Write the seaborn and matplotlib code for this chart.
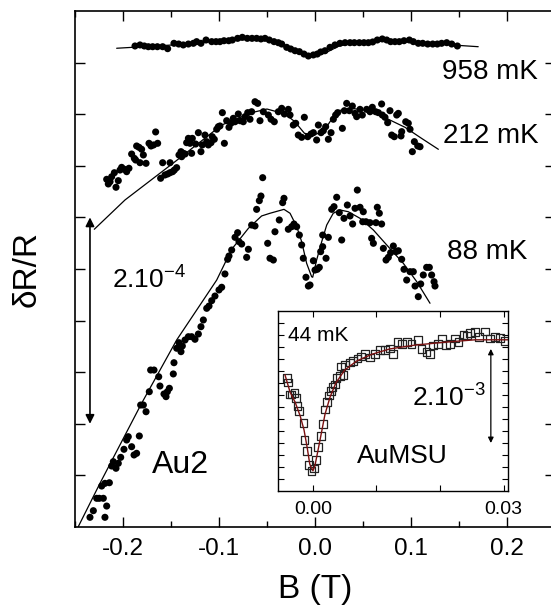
import numpy as np
import pandas as pd
import matplotlib
matplotlib.use("Agg")
import matplotlib.pyplot as plt
import seaborn as sns

# ---------------- data (main panel, y in units of 1e-4) ----------------
x_958 = [-0.1875, -0.1823, -0.1778, -0.1736, -0.1691, -0.1642, -0.1587, -0.1535, -0.1469, -0.1420,
         -0.1372, -0.1319, -0.1267, -0.1233, -0.1188, -0.1135, -0.1076, -0.1031, -0.0990, -0.0948,
         -0.0899, -0.0861, -0.0806, -0.0757, -0.0705, -0.0656, -0.0608, -0.0563, -0.0521, -0.0476,
         -0.0427, -0.0382, -0.0347, -0.0295, -0.0253, -0.0208, -0.0163, -0.0115, -0.0069, -0.0017,
         0.0024, 0.0059, 0.0104, 0.0156, 0.0208, 0.0260, 0.0313, 0.0365, 0.0410, 0.0462,
         0.0510, 0.0556, 0.0601, 0.0649, 0.0701, 0.0747, 0.0788, 0.0833, 0.0878, 0.0927,
         0.0983, 0.1024, 0.1076, 0.1122, 0.1174, 0.1226, 0.1274, 0.1319, 0.1372, 0.1424, 0.1483]
y_958 = [4.661, 4.671, 4.661, 4.654, 4.654, 4.654, 4.654, 4.635, 4.687, 4.680,
         4.671, 4.680, 4.687, 4.703, 4.687, 4.719, 4.703, 4.703, 4.703, 4.712,
         4.712, 4.719, 4.735, 4.745, 4.735, 4.735, 4.735, 4.729, 4.735, 4.719,
         4.703, 4.693, 4.680, 4.648, 4.632, 4.615, 4.606, 4.583, 4.564, 4.574,
         4.583, 4.603, 4.615, 4.648, 4.671, 4.687, 4.693, 4.693, 4.693, 4.693,
         4.693, 4.693, 4.700, 4.719, 4.729, 4.719, 4.703, 4.703, 4.703, 4.712,
         4.719, 4.703, 4.687, 4.687, 4.680, 4.680, 4.680, 4.687, 4.693, 4.680, 4.661]
fitx_958 = [-0.2066, -0.15, -0.10, -0.06, -0.04, -0.025, -0.01, 0.0, 0.01, 0.025, 0.045, 0.08, 0.12, 0.170]
fity_958 = [4.639, 4.670, 4.710, 4.730, 4.700, 4.640, 4.585, 4.570, 4.590, 4.660, 4.700, 4.710, 4.685, 4.654]

x_212 = [-0.2170, -0.2153, -0.2135, -0.2118, -0.2090, -0.2073, -0.2049, -0.2031, -0.2014, -0.1986,
         -0.1962, -0.1938, -0.1910, -0.1882, -0.1858, -0.1868, -0.1833, -0.1823, -0.1806, -0.1788,
         -0.1760, -0.1729, -0.1708, -0.1681, -0.1660, -0.1639, -0.1608, -0.1587, -0.1563, -0.1535,
         -0.1510, -0.1510, -0.1483, -0.1465, -0.1441, -0.1417, -0.1396, -0.1389, -0.1372, -0.1354,
         -0.1337, -0.1319, -0.1302, -0.1285, -0.1278, -0.1243, -0.1215, -0.1188, -0.1174, -0.1146,
         -0.1128, -0.1111, -0.1083, -0.1070, -0.1049, -0.1024, -0.1007, -0.0990, -0.0965, -0.0944,
         -0.0920, -0.0896, -0.0875, -0.0851, -0.0833, -0.0799, -0.0781, -0.0747, -0.0729, -0.0701,
         -0.0677, -0.0660, -0.0625, -0.0597, -0.0573, -0.0538,
         -0.0486, -0.0458, -0.0424, -0.0382, -0.0347, -0.0319, -0.0278, -0.0260, -0.0226, -0.0201,
         -0.0174, -0.0139, -0.0111, -0.0076, -0.0042, -0.0017, 0.0017, 0.0035, 0.0063, 0.0087,
         0.0111, 0.0139, 0.0167, 0.0191, 0.0215, 0.0236, 0.0285, 0.0306, 0.0330, 0.0358,
         0.0389, 0.0417, 0.0434, 0.0469, 0.0493, 0.0538, 0.0573, 0.0597, 0.0632, 0.0660,
         0.0694, 0.0701, 0.0729, 0.0757, 0.0781, 0.0799, 0.0826, 0.0851, 0.0868, 0.0903,
         0.0896, 0.0945, 0.0972, 0.0990, 0.1035, 0.1070, 0.1094, 0.1014]
y_212 = [3.369, 3.324, 3.346, 3.394, 3.433, 3.292, 3.356, 3.459, 3.485, 3.466,
         3.443, 3.476, 3.614, 3.572, 3.692, 3.556, 3.679, 3.530, 3.660, 3.605,
         3.524, 3.718, 3.692, 3.702, 3.828, 3.718, 3.379, 3.530, 3.411, 3.421,
         3.433, 3.530, 3.443, 3.459, 3.482, 3.605, 3.637, 3.588, 3.621, 3.614,
         3.724, 3.766, 3.718, 3.621, 3.766, 3.711, 3.821, 3.637, 3.702, 3.798,
         3.734, 3.702, 3.724, 3.782, 3.757, 3.854, 3.879, 3.886, 4.015, 3.718,
         3.937, 3.873, 3.912, 3.960, 3.927, 4.002, 3.937, 3.927, 3.976, 4.015,
         3.951, 4.024, 4.121, 4.105, 3.937, 4.024,
         3.992, 3.951, 3.927, 4.024, 4.057, 4.002, 4.047, 3.992, 3.895, 3.912,
         3.798, 3.776, 3.970, 3.782, 3.808, 3.821, 3.750, 3.895, 3.821, 3.840,
         3.879, 3.757, 3.821, 3.951, 3.992, 4.015, 3.863, 4.034, 4.105, 4.034,
         4.079, 4.008, 3.976, 4.047, 3.992, 4.047, 4.024, 4.067, 4.024, 4.015,
         4.099, 3.992, 3.970, 3.918, 4.034, 3.798, 3.782, 3.992, 4.008, 3.831,
         3.789, 3.927, 3.912, 3.854, 3.734, 3.692, 3.685, 3.637]
fitx_212 = [-0.2299, -0.1979, -0.1458, -0.0972, -0.0660, -0.0500, -0.0310, -0.0210, -0.0110, -0.0020,
            0.0087, 0.0156, 0.0243, 0.0380, 0.0556, 0.0764, 0.0938, 0.1110, 0.1285]
fity_212 = [2.885, 3.169, 3.540, 3.895, 4.015, 4.050, 4.002, 3.927, 3.815, 3.798,
            3.830, 3.927, 4.034, 4.057, 4.034, 3.951, 3.873, 3.766, 3.660]

x_88 = [-0.0563, -0.0580, -0.0608, -0.0660, -0.0625, -0.0806, -0.0833, -0.0792, -0.0764, -0.0712,
        -0.0694, -0.0868, -0.0896, -0.0910, -0.0938, -0.0972, -0.1000, -0.1042, -0.1076, -0.1104,
        -0.1128, -0.1163, -0.1188, -0.1215, -0.1250, -0.1285, -0.1319, -0.1354, -0.1382, -0.1417,
        -0.1396, -0.1441, -0.0417, -0.0493, -0.0469, -0.0434, -0.0545,
        -0.0323, -0.0337, -0.0372, -0.0278, -0.0243, -0.0219, -0.0191, -0.0163, -0.0139, -0.0122,
        -0.0094, -0.0069, -0.0052, -0.0017, 0.0000, 0.0024, 0.0045, 0.0059, 0.0080, 0.0115,
        0.0139, 0.0080, 0.0174, 0.0198, 0.0226, 0.0253, 0.0278, 0.0302, 0.0337, 0.0365,
        0.0392, 0.0417, 0.0441, 0.0469, 0.0503, 0.0531, 0.0497, 0.0573, 0.0590, 0.0608,
        0.0635, 0.0649, 0.0670, 0.0694, 0.0712, 0.0740, 0.0764, 0.0788, 0.0816, 0.0844,
        0.0868, 0.0903, 0.0927, 0.0955, 0.0990, 0.1024, 0.1042, 0.1076, 0.1101, 0.1128,
        0.1163, 0.1191, 0.1215, 0.1240, 0.1250,
        -0.1469, -0.1476, -0.1517, -0.1538, -0.1552, -0.1573, -0.1615, -0.1628, -0.1677, -0.1712,
        -0.1726, -0.1760, -0.1788, -0.1816, -0.1830, -0.1858, -0.1885, -0.1910, -0.1945, -0.1962,
        -0.1990, -0.2024, -0.2049, -0.2073, -0.2101, -0.2118, -0.2142, -0.2188, -0.2222, -0.2247,
        -0.2274, -0.2309, -0.2344, -0.2205, -0.2170, -0.2188]
y_88 = [3.207, 3.162, 3.078, 2.926, 2.917, 2.852, 2.807, 2.765, 2.742, 2.613,
        2.691, 2.684, 2.626, 2.594, 2.452, 2.323, 2.297, 2.238, 2.193, 2.141,
        2.119, 2.006, 1.941, 1.870, 1.819, 1.844, 1.844, 1.812, 1.754, 1.786,
        1.699, 1.732, 2.861, 2.749, 2.604, 2.587, 3.385,
        3.185, 3.143, 2.975, 2.885, 2.910, 2.936, 2.910, 2.829, 2.733, 2.604,
        2.420, 2.335, 2.345, 2.580, 2.490, 2.497, 2.516, 2.668, 2.716, 2.604,
        2.807, 2.829, 3.078, 3.104, 3.195, 3.046, 2.781, 2.991, 3.120, 3.014,
        2.936, 3.088, 3.265, 3.098, 3.055, 2.958, 2.958, 2.949, 2.797, 2.749,
        2.949, 3.098, 3.040, 2.936, 2.700, 2.587, 2.613, 2.658, 2.723, 2.668,
        2.677, 2.594, 2.497, 2.393, 2.474, 2.474, 2.335, 2.232, 2.355, 2.442,
        2.516, 2.516, 2.442, 2.377, 2.335,
        1.592, 1.483, 1.344, 1.311, 1.263, 1.289, 1.366, 1.456, 1.521, 1.521,
        1.311, 1.117, 1.182, 1.182, 0.882, 0.714, 0.698, 0.778, 0.875, 0.843,
        0.753, 0.675, 0.617, 0.569, 0.633, 0.591, 0.429, 0.423, 0.397, 0.278,
        0.278, 0.158, 0.094, 0.278, 0.203, 0.094]
fitx_88 = [-0.2466, -0.2240, -0.1806, -0.1441, -0.1024, -0.0868, -0.0694, -0.0556, -0.0469, -0.0323,
           -0.0260, -0.0190, -0.0139, -0.0087, -0.0035, -0.0024, 0.0017, 0.0070, 0.0122, 0.0190,
           0.0260, 0.0347, 0.0469, 0.0608, 0.0747, 0.0920, 0.1060, 0.1198]
fity_88 = [0.003, 0.423, 1.199, 1.812, 2.393, 2.691, 2.894, 3.014, 3.040, 3.078,
           3.040, 2.910, 2.765, 2.555, 2.425, 2.420, 2.587, 2.765, 2.926, 3.040,
           3.072, 3.055, 2.991, 2.878, 2.733, 2.555, 2.377, 2.168]

# ---------------- data (inset, y in units of 1e-3) ----------------
x_in = [-0.0041, -0.0039, -0.0037, -0.0034, -0.0029, -0.0027, -0.0024, -0.0022, -0.0015, -0.0013,
        -0.0009, -0.0006, -0.0002, 0.0002, 0.0005, 0.0008, 0.0013, 0.0016, 0.0019, 0.0022,
        0.0025, 0.0028, 0.0031, 0.0035, 0.0037, 0.0043, 0.0048, 0.0044, 0.0050, 0.0058,
        0.0063, 0.0070, 0.0076, 0.0082, 0.0090, 0.0098, 0.0106, 0.0113, 0.0121, 0.0126,
        0.0133, 0.0140, 0.0148, 0.0155, 0.0165, 0.0171, 0.0179, 0.0184, 0.0189, 0.0197,
        0.0203, 0.0209, 0.0216, 0.0224, 0.0229, 0.0237, 0.0242, 0.0247, 0.0255, 0.0261,
        0.0271, 0.0279, 0.0287, 0.0294, 0.0302]
y_in = [2.36, 2.26, 2.01, 2.01, 2.04, 1.94, 1.77, 1.67, 1.42, 1.06,
        0.83, 0.54, 0.42, 0.47, 0.65, 0.92, 1.15, 1.40, 1.70, 1.85,
        1.99, 2.08, 2.17, 2.22, 2.35, 2.40, 2.42, 2.59, 2.63, 2.68,
        2.71, 2.76, 2.80, 2.85, 2.78, 2.85, 2.94, 2.94, 2.97, 2.85,
        3.11, 3.06, 3.10, 3.06, 3.15, 2.96, 2.90, 2.85, 3.03, 3.06,
        3.18, 3.04, 3.06, 3.18, 3.11, 3.25, 3.24, 3.29, 3.31, 3.21,
        3.32, 3.18, 3.21, 3.19, 3.13]
fitx_in = [-0.0044, -0.0036, -0.0028, -0.0020, -0.0014, -0.0009, -0.0005, 0.0000, 0.0003, 0.0008,
           0.0013, 0.0019, 0.0027, 0.0036, 0.0050, 0.0069, 0.0093, 0.0121, 0.0161, 0.0208,
           0.0255, 0.0310]
fity_in = [2.42, 2.06, 1.85, 1.56, 1.27, 0.90, 0.56, 0.42, 0.52, 0.85,
           1.19, 1.60, 1.96, 2.25, 2.52, 2.71, 2.85, 2.96, 3.04, 3.10,
           3.15, 3.15]

main_xticks = [-0.2, -0.1, 0.0, 0.1, 0.2]
main_xticklabels = ["-0.2", "-0.1", "0.0", "0.1", "0.2"]
inset_xticks = [0.00, 0.01, 0.02, 0.03]
inset_xticklabels = ["0.00", "", "", "0.03"]

# ---------------- style ----------------
sns.set_theme(style="ticks")
plt.rcParams["font.family"] = ["Liberation Sans", "DejaVu Sans"]
plt.rcParams["mathtext.fontset"] = "custom"
plt.rcParams["mathtext.rm"] = "Liberation Sans"
plt.rcParams["mathtext.it"] = "Liberation Sans"
plt.rcParams["mathtext.default"] = "regular"
plt.rcParams["axes.unicode_minus"] = False
for key in ["text.color", "axes.labelcolor", "xtick.color", "ytick.color",
            "xtick.labelcolor", "ytick.labelcolor", "axes.edgecolor"]:
    plt.rcParams[key] = "black"

fig = plt.figure(figsize=(5.51, 6.09), dpi=100)
ax = fig.add_axes([75/551, 82/609, 480/551, 516/609])

dot_kw = dict(color="black", s=26, edgecolor="none", legend=False, ax=ax)
line_kw = dict(color="black", linewidth=0.9, estimator=None, sort=False, ax=ax)

sns.scatterplot(x=x_958, y=y_958, **dot_kw)
sns.lineplot(x=fitx_958, y=fity_958, **line_kw)
sns.scatterplot(x=x_212, y=y_212, **dot_kw)
sns.lineplot(x=fitx_212, y=fity_212, **line_kw)
sns.scatterplot(x=x_88, y=y_88, **dot_kw)
sns.lineplot(x=fitx_88, y=fity_88, **line_kw)

ax.set_xlim(-0.25, 0.25)
ax.set_ylim(0, 5.0)
ax.set_xticks(main_xticks)
ax.set_xticklabels(main_xticklabels)
ax.set_xticks(np.arange(-0.25, 0.26, 0.05), minor=True)
ax.set_yticks(np.arange(0.5, 5.0, 0.5))
ax.set_yticklabels([])
ax.tick_params(axis="both", which="both", direction="in", top=True, right=True,
               colors="black", width=1.0)
ax.tick_params(axis="x", which="major", length=7, labelsize=17.5, pad=8)
ax.tick_params(axis="x", which="minor", length=4)
ax.tick_params(axis="y", which="major", length=7)
for sp in ax.spines.values():
    sp.set_linewidth(1.2)
    sp.set_color("black")
ax.set_xlabel("B (T)", fontsize=24, labelpad=10)
ax.set_ylabel("δR/R", fontsize=24, labelpad=20)

# labels
ax.text(0.132, 4.41, "958 mK", fontsize=20, ha="left", va="center")
ax.text(0.133, 3.79, "212 mK", fontsize=20, ha="left", va="center")
ax.text(0.1375, 2.66, "88 mK", fontsize=20, ha="left", va="center")
ax.text(-0.2115, 2.39, "2.10$^{-4}$", fontsize=19, ha="left", va="center")
ax.text(-0.170, 0.60, "Au2", fontsize=23, ha="left", va="center")
ax.annotate("", xy=(-0.2344, 3.0), xytext=(-0.2344, 1.0),
            arrowprops=dict(arrowstyle="<|-|>", mutation_scale=13, lw=1.2, color="black",
                            shrinkA=0, shrinkB=0))

# ---------------- inset ----------------
ins = fig.add_axes([278/551, 118/609, 230/551, 180/609])
sns.scatterplot(x=x_in, y=y_in, marker="s", s=30, facecolor="none", edgecolor="#222222",
                linewidth=0.9, legend=False, ax=ins)
sns.lineplot(x=fitx_in, y=fity_in, color="#7a1010", linewidth=1.0, estimator=None, sort=False, ax=ins)
ins.set_xlim(-0.0055, 0.0307)
ins.set_ylim(0, 3.75)
ins.set_xticks(inset_xticks)
ins.set_xticklabels(inset_xticklabels)
ins.set_yticks(np.arange(0.25, 3.75, 0.25))
ins.set_yticklabels([])
ins.tick_params(axis="both", which="both", direction="in", top=True, right=True,
                colors="black", width=0.8, length=4, labelsize=14, pad=7)
for sp in ins.spines.values():
    sp.set_linewidth(1.0)
    sp.set_color("black")
ins.set_xlabel("")
ins.set_ylabel("")
ins.text(-0.0039, 3.23, "44 mK", fontsize=15, ha="left", va="center")
ins.text(0.0156, 1.94, "2.10$^{-3}$", fontsize=19, ha="left", va="center")
ins.text(0.0069, 0.73, "AuMSU", fontsize=19, ha="left", va="center")
ins.annotate("", xy=(0.028, 2.96), xytext=(0.028, 1.0),
             arrowprops=dict(arrowstyle="<|-|>", mutation_scale=8, lw=0.9, color="black",
                             shrinkA=0, shrinkB=0))

fig.savefig("out.png", dpi=100)
